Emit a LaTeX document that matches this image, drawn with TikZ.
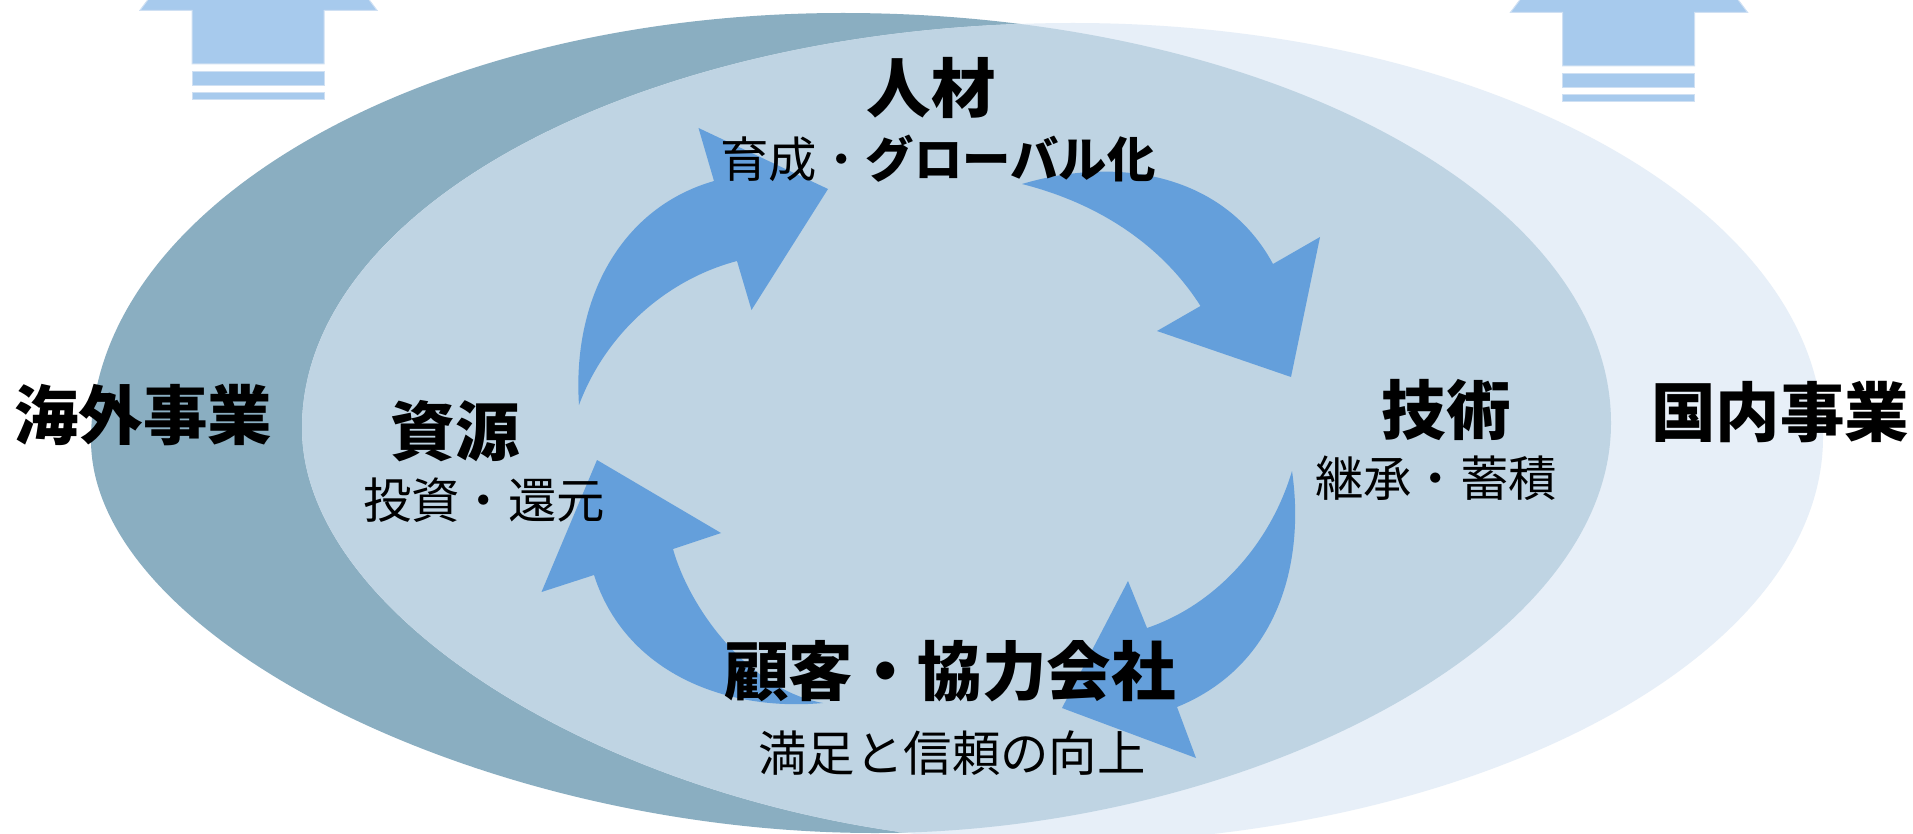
\documentclass[tikz,border=0pt]{standalone}
\usepackage{fontspec}
\newfontfamily\cjk{Noto Sans CJK JP}
\definecolor{darkell}{HTML}{8AAEC1}
\definecolor{lightell}{HTML}{E7EFF8}
\definecolor{midell}{HTML}{BFD4E3}
\definecolor{cyclearrow}{HTML}{649FDB}
\definecolor{blockfill}{HTML}{A7CAED}
\definecolor{blockline}{HTML}{CFE0F3}
\tikzset{
  headtext/.style={inner sep=0pt,font=\cjk\bfseries\fontsize{64.5}{64.5}\selectfont,text=black},
  subtext/.style={inner sep=0pt,font=\cjk\fontsize{48.4}{48.4}\selectfont,text=black},
  cyclefill/.style={fill=cyclearrow,draw=none},
  blockstyle/.style={fill=blockfill,draw=blockline,line width=1pt},
}
\newcommand{\overseasblob}{(91,440) .. controls (91,204) and (428,13) .. (843,13)
  .. controls (1267,13) and (1611,197) .. (1611,423)
  .. controls (1611,650) and (1235,833) .. (875,833)
  .. controls (482,833) and (91,637) .. cycle}
\newcommand{\domesticblob}{(302,428) .. controls (302,204) and (647,23) .. (1073,23)
  .. controls (1487,23) and (1823,208) .. (1823,437)
  .. controls (1823,662) and (1465,843) .. (1055,843)
  .. controls (672,843) and (302,635) .. cycle}
\begin{document}
\begin{tikzpicture}[x=1pt,y=-1pt]
\useasboundingbox (0,0) rectangle (1913,834);
\clip (0,0) rectangle (1913,834);
% ellipses
\fill[white] (0,0) rectangle (1913,834);
\fill[darkell] \overseasblob;
\fill[lightell] \domesticblob;
\begin{scope}
  \clip \overseasblob;
  \fill[midell] \domesticblob;
\end{scope}
% block arrows
\foreach \dx/\dy in {0/0,1370.5/2}{
\begin{scope}[shift={(\dx pt,-\dy pt)}]
  \path[blockstyle] (192,64) -- (192,10.3) -- (140,10.3) -- (150,-3) -- (367,-3) -- (377,10.3) -- (324,10.3) -- (324,64) -- cycle;
  \path[blockstyle] (192,72) rectangle (324,86);
  \path[blockstyle] (192,93) rectangle (324,100);
\end{scope}}
% cycle arrows
\path[cyclefill] (579,405) .. controls (572,300) and (620,208) .. (714,181)
  -- (698.5,128) -- (828,189) -- (751.5,310) -- (737,261)
  .. controls (665,280) and (605,335) .. cycle;
\path[cyclefill] (1022,184) .. controls (1120,155) and (1225,175) .. (1273,264)
  -- (1320,237) -- (1291,377) -- (1157,331) -- (1200.5,306)
  .. controls (1165,250) and (1105,205) .. cycle;
\path[cyclefill] (1292,471) .. controls (1305,560) and (1280,665) .. (1177,707)
  -- (1196,758) -- (1062,708) -- (1128,581) -- (1147,628)
  .. controls (1215,605) and (1270,545) .. cycle;
\path[cyclefill] (823,703) .. controls (725,712) and (625,672) .. (594,575)
  -- (541.5,592) -- (597,460) -- (721,533) -- (673,549)
  .. controls (690,610) and (750,690) .. cycle;
% labels
\node[headtext] (jinzai) at (931,88) {人材};
\node[subtext] (jinzaisub) at (938,159) {育成・{\bfseries グローバル化}};
\node[headtext] (gijutsu) at (1446,410) {技術};
\node[subtext] (gijutsusub) at (1436,478) {継承・蓄積};
\node[headtext] (shigen) at (455,431) {資源};
\node[subtext] (shigensub) at (484,500) {投資・還元};
\node[headtext] (kokyaku) at (950,671) {顧客・協力会社};
\node[subtext] (kokyakusub) at (952,753) {満足と信頼の向上};
\node[headtext] (kaigai) at (143,415) {海外事業};
\node[headtext] (kokunai) at (1780,412) {国内事業};
\end{tikzpicture}
\end{document}
